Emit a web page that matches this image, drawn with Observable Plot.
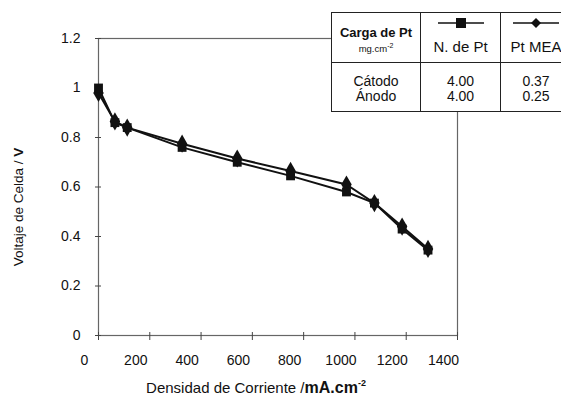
<!DOCTYPE html>
<html>
<head>
<meta charset="utf-8">
<script src="https://cdn.jsdelivr.net/npm/d3@7"></script>
<script src="https://cdn.jsdelivr.net/npm/@observablehq/plot@0.6"></script>
<style>
  body { margin: 0; background: #fff; }
  #wrap { position: relative; width: 561px; height: 398px; overflow: hidden;
          font-family: "Liberation Sans", Arial, sans-serif; color: #111; background: #fff; }
  #tbl { position: absolute; left: 331px; top: 12px; width: 240px; border-collapse: collapse;
         table-layout: fixed; background: #fff; }
  #tbl td { border: 1.5px solid #222; text-align: center; padding: 0; font-size: 15px;
            color: #111; vertical-align: top; overflow: hidden; white-space: nowrap; }
  #tbl tr.h td { height: 49px; }
  #tbl tr.b td { height: 45px; vertical-align: middle; font-size: 14px; line-height: 15px; padding-top: 3px; }
  .lg { display: block; margin: 4px auto 0 auto; }
  .hn { margin-top: 9px; line-height: 17px; }
  .cg { font-weight: bold; font-size: 13px; line-height: 15px; margin-top: 12px; }
  .mg { font-size: 9.5px; line-height: 12px; }
  .mg sup { font-size: 7px; }
</style>
</head>
<body>
<div id="wrap"></div>
<script>
// ---- data ----
const current  = [0, 64, 112, 326, 541, 749, 967, 1076, 1184, 1285];   // mA.cm-2
const voltNPt  = [1.00, 0.86, 0.84, 0.76, 0.70, 0.645, 0.58, 0.535, 0.43, 0.345];
const voltMEA  = [0.98, 0.865, 0.84, 0.775, 0.715, 0.665, 0.61, 0.535, 0.44, 0.35];
const xTicks   = [0, 200, 400, 600, 800, 1000, 1200, 1400];
const yTicks   = [0, 0.2, 0.4, 0.6, 0.8, 1.0, 1.2];
const seriesNames = ["N. de Pt", "Pt MEA"];
const electrodes  = ["Cátodo", "Ánodo"];
const loadNPt     = ["4.00", "4.00"];
const loadMEA     = ["0.37", "0.25"];

const nptData = current.map((x, i) => ({x, y: voltNPt[i]}));
const meaData = current.map((x, i) => ({x, y: voltMEA[i]}));

const chart = Plot.plot({
  width: 561, height: 398,
  marginLeft: 98, marginRight: 104, marginTop: 38, marginBottom: 63,
  style: { fontFamily: "Liberation Sans, Arial, sans-serif", fontSize: "14px", color: "#111", background: "transparent" },
  x: { domain: [0, 1400] },
  y: { domain: [0, 1.2] },
  marks: [
    Plot.frame({ stroke: "#666", strokeWidth: 1.2 }),
    Plot.axisY({ ticks: yTicks, tickSize: 6, dx: 3, tickFormat: () => "", label: null, stroke: "#444" }),
    Plot.axisY({ ticks: yTicks, tickSize: 0, tickPadding: 18, tickFormat: d3.format("~g"), label: null, fontSize: 14 }),
    Plot.axisX({ ticks: xTicks, tickSize: 8, dy: -3, tickFormat: () => "", label: null, stroke: "#444" }),
    Plot.axisX({ ticks: xTicks, tickSize: 0, tickPadding: 20, dx: -14, tickFormat: d3.format("d"), label: null, fontSize: 14 }),
    Plot.line(meaData, { x: "x", y: "y", stroke: "#111", strokeWidth: 2 }),
    Plot.line(nptData, { x: "x", y: "y", stroke: "#111", strokeWidth: 2 }),
    Plot.dot(meaData, { x: "x", y: "y", symbol: "diamond", r: 5.5, fill: "#111" }),
    Plot.dot(nptData, { x: "x", y: "y", symbol: "square", r: 5, fill: "#111" })
  ]
});

const wrap = document.getElementById("wrap");
wrap.appendChild(chart);

// axis titles with mixed styling
const svg = d3.select(chart);
const xt = svg.append("text")
  .attr("x", 256).attr("y", 393).attr("text-anchor", "middle")
  .attr("font-size", 15).attr("fill", "#111");
xt.append("tspan").text("Densidad de Corriente /");
xt.append("tspan").attr("font-weight", "bold").attr("font-size", 16).text("mA.cm");
xt.append("tspan").attr("font-size", 9).attr("dy", -7).attr("font-weight", "bold").text("-2");

const yt = svg.append("text")
  .attr("transform", "translate(23,207) rotate(-90)")
  .attr("text-anchor", "middle").attr("font-size", 13.5).attr("fill", "#111");
yt.append("tspan").text("Voltaje de Celda / ");
yt.append("tspan").attr("font-weight", "bold").text("V");

// legend / loading table
function legendSvg(sym) {
  const marker = sym === "square"
    ? '<rect x="18" y="1" width="10" height="10" fill="#111"/>'
    : '<path d="M23 1 L28 6 L23 11 L18 6 Z" fill="#111"/>';
  return '<svg class="lg" width="46" height="12"><line x1="0" y1="6" x2="46" y2="6" stroke="#111" stroke-width="1.5"/>' + marker + '</svg>';
}
const tbl = document.createElement("table");
tbl.id = "tbl";
tbl.innerHTML =
  '<colgroup><col style="width:89px"><col style="width:80px"><col style="width:71px"></colgroup>' +
  '<tr class="h"><td><div class="cg">Carga de Pt</div><div class="mg">mg.cm<sup>-2</sup></div></td>' +
  '<td>' + legendSvg("square") + '<div class="hn">' + seriesNames[0] + '</div></td>' +
  '<td>' + legendSvg("diamond") + '<div class="hn">' + seriesNames[1] + '</div></td></tr>' +
  '<tr class="b"><td>' + electrodes.join("<br>") + '</td><td>' + loadNPt.join("<br>") +
  '</td><td>' + loadMEA.join("<br>") + '</td></tr>';
wrap.appendChild(tbl);
</script>
</body>
</html>
